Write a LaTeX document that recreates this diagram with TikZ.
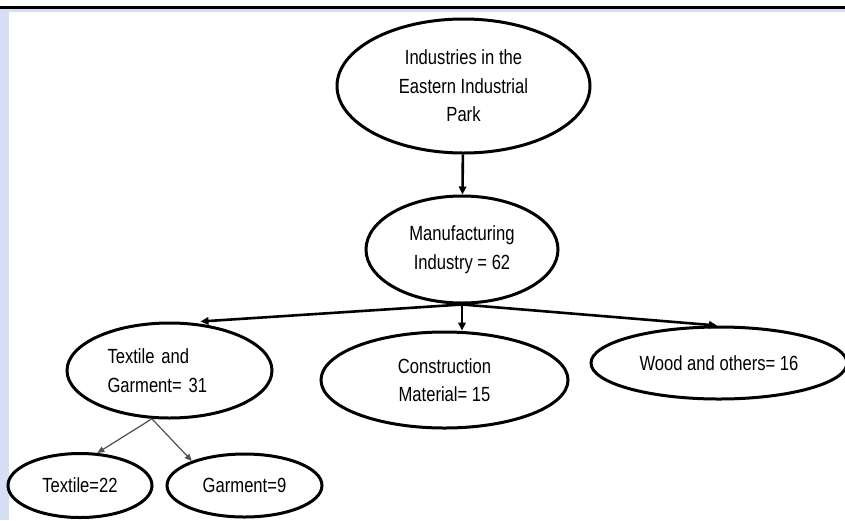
\documentclass[tikz,border=0pt]{standalone}
\usepackage{fontspec}
\setmainfont{Liberation Sans}[FakeStretch=0.81]
\usepackage{tikz}
\usetikzlibrary{shapes, positioning, arrows.meta}
\definecolor{frameblue}{RGB}{214,224,242}
\definecolor{thingray}{RGB}{80,80,80}

\begin{document}
\begin{tikzpicture}[x=1pt, y=-1pt,
        box/.style={draw, ellipse, line width=3pt, inner sep=0pt, align=center,
            font=\fontsize{20.5}{28.5}\selectfont},
        >={Triangle[length=8pt, width=7.5pt]}]
        \useasboundingbox (0,0) rectangle (845,520);
        \fill[frameblue] (0,9) rectangle (845,11.5);
        \fill[frameblue] (0,9) rectangle (9,520);
        \draw[line width=2.6pt] (0,7.6) -- (845,7.6);

        \node[box, minimum width=253, minimum height=134] (park) at (463.5, 86) {Industries in the\\Eastern Industrial\\Park};
        \node[box, minimum width=192, minimum height=107] (mfg) at (462, 249.5) {Manufacturing\\Industry = 62};
        \node[box, minimum width=205, minimum height=95, align=left, text width=124pt] (tg) at (169.5, 370.5) {Textile and\\Garment= 31};
        \node[box, minimum width=247, minimum height=96] (cm) at (444.5, 380) {Construction\\Material= 15};
        \node[box, minimum width=256, minimum height=72] (wd) at (719, 363) {Wood and others= 16};
        \node[box, minimum width=144, minimum height=64] (tx) at (80, 485.5) {Textile=22};
        \node[box, minimum width=155, minimum height=63] (gm) at (244.5, 485.5) {Garment=9};

        \draw[->, line width=2.6pt] (park) to (mfg);
        \draw[->, line width=2.6pt] (mfg.south) to ([xshift=31pt]tg.north);
        \draw[->, line width=2.6pt] (mfg.south) to (mfg.south |- cm.north);
        \draw[->, line width=2.6pt] (mfg.south) to ([xshift=-2pt]wd.north);
        \draw[->, thingray, line width=1.2pt, >={Triangle[length=7pt, width=6pt]}] (tg.250) to (tx.62);
        \draw[->, thingray, line width=1.2pt, >={Triangle[length=7pt, width=6pt]}] (tg.250) to (gm.155);
    \end{tikzpicture}
\end{document}
